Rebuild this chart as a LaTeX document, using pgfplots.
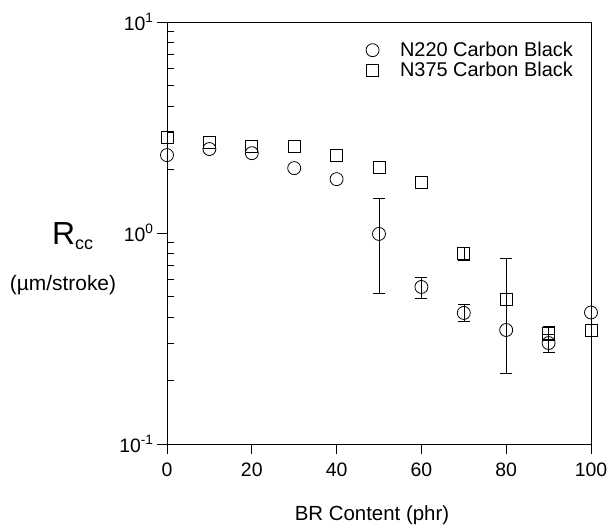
\documentclass[border=0pt]{standalone}
\usepackage{pgfplots}
\pgfplotsset{compat=1.18}
\usepackage{fontspec}
\setmainfont{Liberation Sans}
\begin{document}
\begin{tikzpicture}
\begin{axis}[
  scale only axis, width=424bp, height=422bp,
  ymode=log, xmin=0, xmax=100, ymin=0.1, ymax=10,
  clip=false,
  axis line style={line width=0.9bp},
  every tick/.style={black, line width=0.9bp},
  tick align=outside, major tick length=10bp,
  tick pos=left,
  xtick={0,20,40,60,80,100},
  ytick={0.1,1,10},
  yticklabels={10\textsuperscript{-1},10\textsuperscript{0},10\textsuperscript{1}},
  yminorticks=false, xminorticks=false,
  extra y ticks={0.2,0.3,0.4,0.5,0.6,0.7,0.8,0.9,2,3,4,5,6,7,8,9},
  extra y tick labels={},
  extra y tick style={tick align=inside, major tick length=7bp},
  /pgf/number format/assume math mode=true,
  ticklabel style={font=\fontsize{19.5}{22}\selectfont},
  xticklabel style={yshift=-5bp},
  legend style={draw=none, fill=none, at={(0.462,0.962)}, anchor=north west,
    font=\fontsize{20}{22}\selectfont, row sep=0bp,
    /tikz/every odd column/.append style={column sep=19bp}},
  legend cell align=left,
  error bars/y dir=both, error bars/y explicit,
  error bars/error bar style={line width=0.6bp, black},
  error bars/error mark options={rotate=90, line width=0.6bp, black, mark size=6bp},
]
\addplot[only marks, mark=o, mark size=6.5bp, mark options={fill=white, line width=0.8bp}]
  coordinates {
  (0,2.34) (10,2.5) (20,2.39) (30,2.03) (40,1.80)
  (50,0.99) += (0,0.47) -= (0,0.47)
  (60,0.555) += (0,0.065) -= (0,0.065)
  (70,0.418) += (0,0.04) -= (0,0.035)
  (80,0.347)
  (90,0.301) += (0,0.03) -= (0,0.03)
  (100,0.42)
  };
\addlegendentry{N220 Carbon Black}
\addplot[only marks, mark=square, mark size=6bp, mark options={fill=white, line width=0.8bp}]
  coordinates {
  (0,2.85) (10,2.70) (20,2.58) (30,2.58) (40,2.33) (50,2.05) (60,1.74)
  (70,0.80) += (0,0.06) -= (0,0.06)
  (80,0.487) += (0,0.27) -= (0,0.27)
  (90,0.336) += (0,0.025) -= (0,0.025)
  (100,0.347)
  };
\addlegendentry{N375 Carbon Black}
\end{axis}
\node[anchor=base, font=\fontsize{32}{34}\selectfont] at ([shift={(-94.5bp,199bp)}]current axis.south west) {R{\fontsize{18}{20}\selectfont\raisebox{-5bp}{cc}}};
\node[anchor=base, font=\fontsize{21}{23}\selectfont] at ([shift={(-104bp,153bp)}]current axis.south west) {(µm/stroke)};
\node[anchor=base, font=\fontsize{20.5}{23}\selectfont] at ([shift={(205bp,-76bp)}]current axis.south west) {BR Content (phr)};
\path ([shift={(-167bp,-81bp)}]current axis.south west) rectangle ([shift={(20bp,22bp)}]current axis.north east);
\end{tikzpicture}
\end{document}
